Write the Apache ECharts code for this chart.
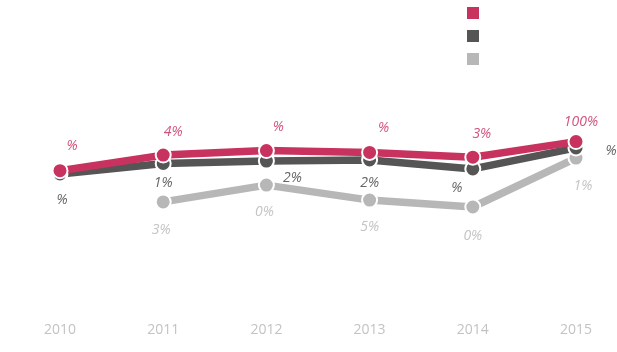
<!DOCTYPE html>
<html>
<head>
<meta charset="utf-8">
<script src="https://cdn.jsdelivr.net/npm/echarts@6/dist/echarts.min.js"></script>
<style>
  html, body { margin: 0; padding: 0; background: #fff; }
  #chart { width: 617px; height: 352px; }
</style>
</head>
<body>
<div id="chart"></div>
<script>
// Years on the category axis
const years = ['2010', '2011', '2012', '2013', '2014', '2015'];

// Series values (percent scale, 0–100)
const seriesA = [48.1, 53.3, 54.8, 54.2, 52.6, 57.8];
const seriesB = [47.0, 50.5, 51.3, 51.7, 48.7, 55.7];
const seriesC = [null, 37.7, 43.3, 38.3, 36.0, 52.3];

// Point label texts
const labelsA = ['%', '4%', '%', '%', '3%', '100%'];
const labelsB = ['%', '1%', '2%', '2%', '%', '%'];
const labelsC = ['', '3%', '0%', '5%', '0%', '1%'];

// Label placement relative to each point (pixels)
const offsetsA = [[12, -25], [10, -23], [12, -24], [14, -24], [9, -23], [5, -20]];
const offsetsB = [[2, 26], [0, 20], [26, 17], [0, 23], [-16, 19], [35, 3]];
const offsetsC = [[0, 0], [-2, 28], [-2, 27], [0, 27], [0, 29], [7, 28]];

const FONT = '"Open Sans", "Noto Sans", sans-serif';

function makeSeries(name, values, labels, offsets, color, labelColor, z) {
  return {
    name: name,
    type: 'line',
    z: z,
    data: values.map((v, i) => ({
      value: v,
      label: {
        show: labels[i] !== '',
        position: 'inside',
        offset: offsets[i],
        formatter: labels[i]
      }
    })),
    symbol: 'circle',
    symbolSize: 15,
    showAllSymbol: true,
    connectNulls: false,
    lineStyle: { color: color, width: 7.5 },
    itemStyle: { color: color, borderColor: '#fff', borderWidth: 2 },
    label: {
      color: labelColor,
      fontFamily: FONT,
      fontStyle: 'italic',
      fontSize: 14
    },
    emphasis: { disabled: true },
    animation: false
  };
}

const chart = echarts.init(document.getElementById('chart'), null, { renderer: 'canvas' });

chart.setOption({
  backgroundColor: '#ffffff',
  animation: false,
  legend: {
    orient: 'vertical',
    left: 460,
    top: 0,
    icon: 'rect',
    itemWidth: 14,
    itemHeight: 14,
    itemGap: 7,
    selectedMode: false,
    formatter: () => '',
    data: ['A', 'B', 'C']
  },
  grid: { left: 60, right: 41, top: 15, bottom: 37 },
  xAxis: {
    type: 'category',
    data: years,
    boundaryGap: false,
    axisLine: { show: false },
    axisTick: { show: false },
    splitLine: { show: false },
    axisLabel: {
      color: '#c3c3c3',
      fontFamily: FONT,
      fontSize: 14,
      margin: 8
    }
  },
  yAxis: {
    type: 'value',
    min: 0,
    max: 100,
    show: false,
    splitLine: { show: false }
  },
  series: [
    makeSeries('C', seriesC, labelsC, offsetsC, '#b7b7b7', '#c4c4c4', 3),
    makeSeries('B', seriesB, labelsB, offsetsB, '#555555', '#666666', 4),
    makeSeries('A', seriesA, labelsA, offsetsA, '#c8325f', '#d2537a', 5)
  ]
});
</script>
</body>
</html>
